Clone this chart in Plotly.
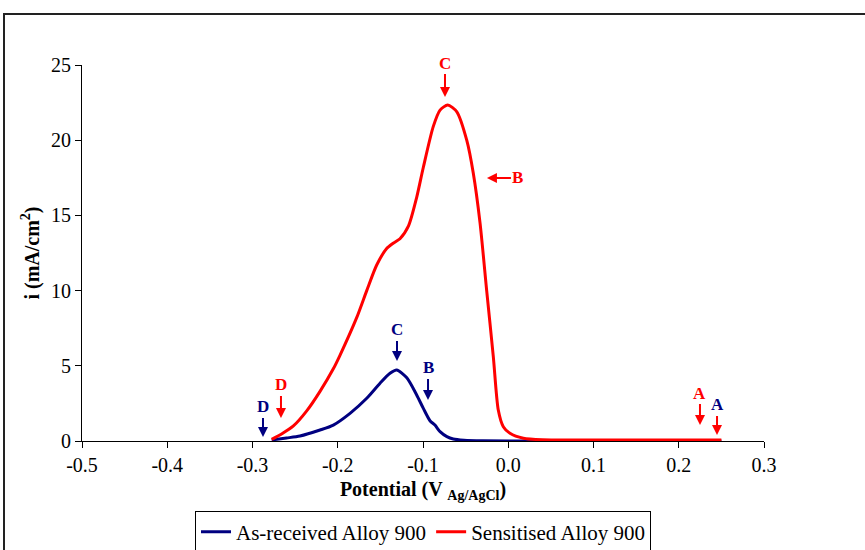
import plotly.graph_objects as go

# Data
red_x = [-0.2775, -0.265, -0.252, -0.2364, -0.2208, -0.2052, -0.1974, -0.1778, -0.166, -0.1543,
         -0.1426, -0.135, -0.127, -0.117, -0.1074, -0.0996, -0.088, -0.080, -0.071, -0.0605,
         -0.0487, -0.041, -0.0331, -0.0253, -0.0175, -0.0117, -0.0058, 0.002, 0.0177, 0.04,
         0.1, 0.2, 0.25]
red_y = [0.11, 0.5, 1.0, 2.0, 3.3, 4.8, 5.7, 8.2, 10.0, 11.7,
         12.8, 13.15, 13.45, 14.3, 16.2, 18.2, 20.9, 22.0, 22.34, 21.9,
         20.0, 17.8, 14.5, 10.0, 5.6, 2.06, 0.95, 0.51, 0.18, 0.08,
         0.06, 0.06, 0.06]

blue_x = [-0.2775, -0.26, -0.2443, -0.2208, -0.2052, -0.1856, -0.166, -0.1504, -0.1387, -0.1308,
          -0.119, -0.1074, -0.0996, -0.0918, -0.086, -0.080, -0.072, -0.0645, -0.052, -0.03,
          0.1, 0.25]
blue_y = [0.07, 0.2, 0.33, 0.73, 1.06, 1.84, 2.84, 3.84, 4.5, 4.72,
          4.2, 3.06, 2.17, 1.35, 1.06, 0.62, 0.29, 0.13, 0.05, 0.01,
          0.0, 0.0]

series_names = ["As-received Alloy 900", "Sensitised Alloy 900"]
x_ticks = [-0.5, -0.4, -0.3, -0.2, -0.1, 0.0, 0.1, 0.2, 0.3]
x_tick_labels = ["-0.5", "-0.4", "-0.3", "-0.2", "-0.1", "0.0", "0.1", "0.2", "0.3"]
y_ticks = [0, 5, 10, 15, 20, 25]

# marker labels: (text, head x, head y, ax, ay, text colour, arrow colour)
labels = [
    ("D", -0.2877, 0.27, 0, -30, "#000080", "#000080"),
    ("D", -0.2666, 1.53, 0, -33, "#FF0000", "#FF0000"),
    ("C", -0.1305, 5.32, 0, -31, "#000080", "#000080"),
    ("B", -0.0941, 2.73, 0, -32, "#000080", "#000080"),
    ("C", -0.0742, 22.87, 0, -34, "#FF0000", "#FF0000"),
    ("B", -0.025, 17.49, 31, 0, "#FF0000", "#FF0000"),
    ("A", 0.2249, 1.06, 0, -32, "#FF0000", "#FF0000"),
    ("A", 0.2449, 0.4, 0, -30, "#000080", "#FF0000"),
]

NAVY = "#000080"
RED = "#FF0000"
FONT = "Liberation Serif"

fig = go.Figure()
fig.add_trace(go.Scatter(x=blue_x, y=blue_y, mode="lines", name=series_names[0],
                         line=dict(color=NAVY, width=3, shape="spline", smoothing=0.7)))
fig.add_trace(go.Scatter(x=red_x, y=red_y, mode="lines", name=series_names[1],
                         line=dict(color=RED, width=3, shape="spline", smoothing=0.7)))

for t, hx, hy, ax, ay, tc, ac in labels:
    fig.add_annotation(x=hx, y=hy, xref="x", yref="y", text="<b>%s</b>" % t,
                       showarrow=True, ax=ax, ay=ay, arrowhead=2, arrowsize=1,
                       arrowwidth=2, arrowcolor=ac, standoff=0,
                       font=dict(family=FONT, size=17, color=tc))

# outer frame
fig.add_shape(type="rect", xref="paper", yref="paper",
              x0=(4 - 82) / 682, x1=1 + (880 - 764) / 682,
              y0=(441 - 570) / 376, y1=1 + (65 - 14) / 376,
              line=dict(color="#222222", width=2), layer="below")

fig.update_layout(
    width=865, height=550,
    margin=dict(l=82, r=101, t=65, b=109),
    paper_bgcolor="white", plot_bgcolor="white",
    font=dict(family=FONT, size=20, color="black"),
    showlegend=True,
    legend=dict(orientation="h", x=0.5, xref="paper", y=(550 - 532) / 550, yref="container",
                xanchor="center", yanchor="middle",
                bordercolor="black", borderwidth=1, bgcolor="white",
                font=dict(family=FONT, size=21), itemwidth=30),
)
fig.update_xaxes(range=[-0.5, 0.3], tickvals=x_ticks, ticktext=x_tick_labels,
                 showline=True, linecolor="black", linewidth=1, ticks="outside",
                 ticklen=6, tickcolor="black", showgrid=False, zeroline=False,
                 automargin=False,
                 tickfont=dict(family=FONT, size=20),
                 title=dict(text="<b>Potential (V <sub>Ag/AgCl</sub>)</b>",
                            font=dict(family=FONT, size=20), standoff=6))
fig.update_yaxes(range=[0, 25], tickvals=y_ticks,
                 showline=True, linecolor="black", linewidth=1, ticks="outside",
                 ticklen=6, tickcolor="black", showgrid=False, zeroline=False,
                 automargin=False,
                 tickfont=dict(family=FONT, size=20),
                 title=dict(text="<b>i (mA/cm<sup>2</sup>)</b>",
                            font=dict(family=FONT, size=20), standoff=6))

fig.write_html("out.html", config={"displayModeBar": False},
               post_script="document.body.style.margin='0';document.body.style.overflow='hidden';")
